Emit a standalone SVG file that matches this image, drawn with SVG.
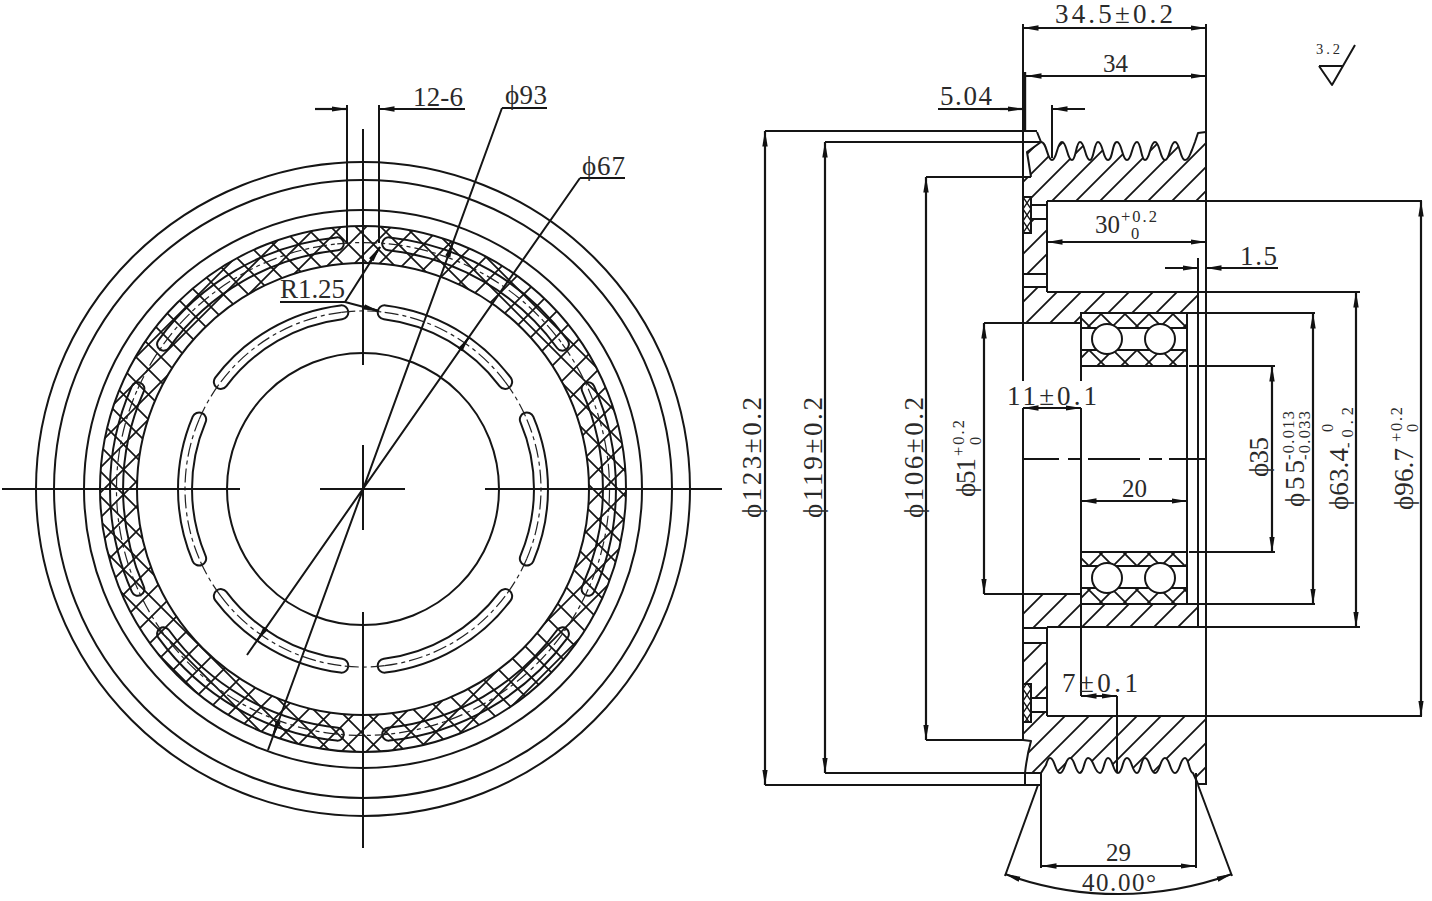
<svg xmlns="http://www.w3.org/2000/svg" xmlns:xlink="http://www.w3.org/1999/xlink" width="1432" height="901" viewBox="0 0 1432 901">
<style>
.l{fill:none;stroke:#151515;stroke-width:2;stroke-linejoin:round}
.th{fill:none;stroke:#151515;stroke-width:3.4}
.dm{fill:none;stroke:#151515;stroke-width:2.2;marker-start:url(#a);marker-end:url(#a)}
.ld{fill:none;stroke:#151515;stroke-width:2.2;marker-end:url(#a)}
.ds{fill:none;stroke:#222;stroke-width:1.2;stroke-dasharray:14 4 4 4}
text{font-family:"Liberation Serif","DejaVu Serif",serif;font-size:27px;fill:#2a2a2a}
.m{font-size:25px}
.s{font-size:16.5px}
.xs{font-size:14.5px}
</style>
<defs>
<marker id="a" markerUnits="userSpaceOnUse" markerWidth="16" markerHeight="7" refX="15.5" refY="3.5" orient="auto-start-reverse"><path d="M0 0.8 L16 3.5 L0 6.2Z" fill="#111"/></marker>
<pattern id="xh" patternUnits="userSpaceOnUse" width="25" height="25" patternTransform="translate(111 482)"><path d="M0 0L25 25M0 25L25 0" stroke="#151515" stroke-width="1.7" fill="none"/></pattern>
<pattern id="xb" patternUnits="userSpaceOnUse" width="24" height="24" patternTransform="translate(1101 314)"><path d="M0 0L24 24M0 24L24 0" stroke="#151515" stroke-width="1.8" fill="none"/></pattern>
<pattern id="xs" patternUnits="userSpaceOnUse" width="8" height="12" patternTransform="translate(1023 197)"><path d="M0 0L8 12M0 12L8 0" stroke="#151515" stroke-width="1.4" fill="none"/></pattern>
<pattern id="h" patternUnits="userSpaceOnUse" width="24" height="24" patternTransform="translate(5 0)"><path d="M-2 26L26 -2M-2 2L2 -2M22 26L26 22" stroke="#151515" stroke-width="1.8" fill="none"/></pattern>
<g id="in"><path class="l" d="M-72.28 -170.29A185 185 0 0 1 72.28 -170.29A7 7 0 0 1 66.81 -157.4A171 171 0 0 0 -66.81 -157.4A7 7 0 0 1 -72.28 -170.29Z"/><path class="ds" d="M-69.55 -163.85A178 178 0 0 1 69.55 -163.85"/></g>
<g id="out"><path class="l" d="M-102.9 -231.1A253 253 0 0 1 102.9 -231.1A6.5 6.5 0 0 1 97.6 -219.2A240 240 0 0 0 -97.6 -219.2A6.5 6.5 0 0 1 -102.9 -231.1Z"/><path class="ds" d="M-100.3 -225.2A246.5 246.5 0 0 1 100.3 -225.2"/></g>
<path id="gi" class="ds" d="M-21.7 -176.7A178 178 0 0 1 21.7 -176.7"/>
<path id="go" class="ds" d="M-25.8 -245.1A246.5 246.5 0 0 1 25.8 -245.1"/>
</defs>
<rect width="1432" height="901" fill="#fff"/>

<g id="front-view">
<path d="M100 489A263 263 0 1 0 626 489A263 263 0 1 0 100 489ZM137 489A226 226 0 1 0 589 489A226 226 0 1 0 137 489Z" fill="url(#xh)" fill-rule="evenodd"/>
<g transform="translate(363 489)" class="l">
<circle r="327"/><circle r="309"/><circle r="279"/><circle r="263"/><circle r="226"/><circle r="136"/>
<use href="#out" transform="rotate(30)"/><use href="#out" transform="rotate(90)"/><use href="#out" transform="rotate(150)"/><use href="#out" transform="rotate(210)"/><use href="#out" transform="rotate(270)"/><use href="#out" transform="rotate(330)"/>
<use href="#in" transform="rotate(30)"/><use href="#in" transform="rotate(90)"/><use href="#in" transform="rotate(150)"/><use href="#in" transform="rotate(210)"/><use href="#in" transform="rotate(270)"/><use href="#in" transform="rotate(330)"/>
<use href="#gi"/><use href="#gi" transform="rotate(60)"/><use href="#gi" transform="rotate(120)"/><use href="#gi" transform="rotate(180)"/><use href="#gi" transform="rotate(240)"/><use href="#gi" transform="rotate(300)"/>
<use href="#go"/><use href="#go" transform="rotate(60)"/><use href="#go" transform="rotate(120)"/><use href="#go" transform="rotate(180)"/><use href="#go" transform="rotate(240)"/><use href="#go" transform="rotate(300)"/>
</g>
<path class="l" d="M2 489H240M320 489H405M485 489H722M363 129V365M363 445V530M363 612V848M347 105V243M379 105V243"/>
<path class="ld" d="M315 109H347"/><path class="ld" d="M465 109H379"/>
<path class="l" d="M502 108H547M502 108L268 750M580 178H625M580 178L247 655M280 302H345L380 247M345 302L379 311"/>
<path class="ld" d="M447.6 257L453.1 242"/><path class="ld" d="M278.4 721L272.9 736"/>
<path class="ld" d="M460.3 349.6L468.9 337.3"/><path class="ld" d="M265.7 628.4L257.1 640.7"/>
<path class="ld" d="M369 263L380 247"/><path class="ld" d="M363 306.5L379 311"/>
<text x="413" y="106" textLength="50">12-6</text>
<text x="505" y="104" textLength="42">ϕ93</text>
<text x="582" y="175" textLength="43">ϕ67</text>
<text x="280" y="298" textLength="65">R1.25</text>
</g>

<g id="section-view">
<path d="M1041 142C1047 142 1047 160 1052 160C1057 160 1057 142 1062 142C1067 142 1067 160 1072 160C1076 160 1076 142 1080 142C1085 142 1085 160 1090 160C1094 160 1094 142 1098 142C1103 142 1103 160 1108 160C1113 160 1112 142 1117 142C1122 142 1122 160 1127 160C1132 160 1132 142 1137 142C1141 142 1141 160 1145 160C1150 160 1150 142 1155 142C1160 142 1160 160 1165 160C1170 160 1170 142 1175 142C1180 142 1180 160 1185 160C1189 160 1190 154 1192 150L1195 142L1198 133L1206 132V201H1047V205H1031V197H1023V177H1031L1027 152Z" fill="url(#h)"/>
<path d="M1023 233H1031V219H1047V274H1023ZM1023 287H1047V292H1198V313H1081V323H1023ZM1023 594H1081V604H1198V627H1023ZM1023 643H1047V698H1031V684H1023Z" fill="url(#h)"/>
<path d="M1025 773H1041L1046 765Q1048 758 1050 758C1055 758 1055 773 1060 773C1065 773 1065 758 1070 758C1075 758 1075 773 1080 773C1084 773 1084 758 1088 758C1094 758 1094 773 1100 773C1104 773 1104 758 1108 758C1113 758 1113 773 1118 773C1123 773 1122 758 1127 758C1132 758 1132 773 1137 773C1141 773 1141 758 1145 758C1150 758 1150 773 1155 773C1160 773 1160 758 1165 758C1170 758 1170 773 1175 773C1180 773 1180 758 1185 758C1189 758 1189 773 1193 773L1198 784H1206V716H1047V712H1031V722H1023V740L1031 741Q1027 755 1025 773Z" fill="url(#h)"/>
<path class="l" d="M1041 142C1047 142 1047 160 1052 160C1057 160 1057 142 1062 142C1067 142 1067 160 1072 160C1076 160 1076 142 1080 142C1085 142 1085 160 1090 160C1094 160 1094 142 1098 142C1103 142 1103 160 1108 160C1113 160 1112 142 1117 142C1122 142 1122 160 1127 160C1132 160 1132 142 1137 142C1141 142 1141 160 1145 160C1150 160 1150 142 1155 142C1160 142 1160 160 1165 160C1170 160 1170 142 1175 142C1180 142 1180 160 1185 160C1189 160 1190 154 1192 150L1195 142L1198 133L1206 132"/>
<path class="l" d="M1025 773H1041L1046 765Q1048 758 1050 758C1055 758 1055 773 1060 773C1065 773 1065 758 1070 758C1075 758 1075 773 1080 773C1084 773 1084 758 1088 758C1094 758 1094 773 1100 773C1104 773 1104 758 1108 758C1113 758 1113 773 1118 773C1123 773 1122 758 1127 758C1132 758 1132 773 1137 773C1141 773 1141 758 1145 758C1150 758 1150 773 1155 773C1160 773 1160 758 1165 758C1170 758 1170 773 1175 773C1180 773 1180 758 1185 758C1189 758 1189 773 1193 773L1198 784H1206"/>
<path class="l" d="M1037 132L1041 142L1027 152L1031 177M1023 740L1031 741Q1027 755 1025 773V785"/>
<path class="l" d="M1023 24V381M1023 408V740M1206 24V785M1047 201V292M1047 627V716M1081 313V381M1081 408V696M1187 313V604M1198 258V627M1117 696V773M1041 773V868M1196 773V868"/>
<path class="th" d="M1024.5 72V132"/>
<path class="l" d="M1031 205H1047M1031 219H1047M1023 274H1047M1023 287H1047M1023 628H1047M1023 643H1047M1031 698H1047M1031 712H1047"/>
<path class="l" d="M765 131H1037M825 142H1041M926 177H1031M984 323H1081M984 594H1081M926 740H1023M825 773H1041M765 785H1041"/>
<path class="l" d="M1047 201H1422M1047 716H1422M1047 292H1360M1047 627H1360M1081 313H1315M1081 604H1315M1081 366H1187M1189 366H1275M1081 552H1187M1189 552H1275"/>
<path class="l" d="M1023 459H1059M1068 459H1081M1088 459H1140M1149 459H1162M1169 459H1206"/>
<path d="M1081 313H1187V328H1081ZM1081 350H1187V366H1081ZM1081 552H1187V566H1081ZM1081 588H1187V604H1081Z" fill="url(#xb)" stroke="#151515" stroke-width="2"/>
<path d="M1023 197H1031V233H1023ZM1023 684H1031V722H1023Z" fill="url(#xs)" stroke="#151515" stroke-width="2"/>
<g class="l"><circle cx="1107" cy="339" r="15" fill="#fff"/><circle cx="1160" cy="339" r="15" fill="#fff"/><circle cx="1107" cy="578" r="15" fill="#fff"/><circle cx="1160" cy="578" r="15" fill="#fff"/></g>
</g>

<g id="dimension-lines">
<path class="dm" d="M1023 28H1206"/><path class="dm" d="M1026 76H1206"/>
<path class="l" d="M938 109H1023"/><path class="ld" d="M1000 109H1023"/><path class="ld" d="M1085 109H1052"/><path class="l" d="M1052 105V158"/>
<path class="dm" d="M765 131V785"/><path class="dm" d="M825 142V773"/><path class="dm" d="M926 177V740"/><path class="dm" d="M984 323V594"/>
<path class="dm" d="M1023 408H1081"/><path class="dm" d="M1081 501H1187"/><path class="dm" d="M1272 366V552"/><path class="dm" d="M1313 313V604"/><path class="dm" d="M1356 292V627"/><path class="dm" d="M1421 201V716"/>
<path class="dm" d="M1047 242H1206"/>
<path class="ld" d="M1165 268H1198"/><path class="ld" d="M1278 268H1206"/>
<path class="dm" d="M1081 696H1117"/><path class="dm" d="M1041 866H1196"/>
<path class="l" d="M1038 785L1005 876M1198 785L1232 876"/>
<path class="dm" d="M1005 874A332 332 0 0 0 1232 874"/>
</g>

<g id="labels">
<text x="1055" y="23" textLength="118">34.5±0.2</text>
<text class="m" x="1103" y="72">34</text>
<text x="940" y="105" textLength="52">5.04</text>
<text class="m" x="1095" y="233">30</text>
<text class="s" x="1121" y="222" textLength="36">+0.2</text>
<text class="s" x="1131" y="239">0</text>
<text x="1240" y="265" textLength="37">1.5</text>
<text x="1007" y="405" textLength="90">11±0.1</text>
<text class="m" x="1122" y="497">20</text>
<text x="1062" y="692" textLength="76">7±0.1</text>
<text class="m" x="1106" y="861">29</text>
<text class="m" x="1082" y="891" textLength="74">40.00°</text>
<text class="xs" x="1316" y="54" textLength="24">3.2</text>
<g transform="translate(761 518) rotate(-90)"><text textLength="121">ϕ123±0.2</text></g>
<g transform="translate(822 518) rotate(-90)"><text textLength="121">ϕ119±0.2</text></g>
<g transform="translate(923 518) rotate(-90)"><text textLength="121">ϕ106±0.2</text></g>
<g transform="translate(975 497) rotate(-90)"><text textLength="39">ϕ51</text></g>
<g transform="translate(964 456) rotate(-90)"><text class="s" textLength="36">+0.2</text></g>
<g transform="translate(981 445) rotate(-90)"><text class="s">0</text></g>
<g transform="translate(1268 477) rotate(-90)"><text textLength="40">ϕ35</text></g>
<g transform="translate(1304 507) rotate(-90)"><text textLength="47">ϕ55</text></g>
<g transform="translate(1294 460) rotate(-90)"><text class="s" textLength="49">-0.013</text></g>
<g transform="translate(1310 460) rotate(-90)"><text class="s" textLength="49">-0.033</text></g>
<g transform="translate(1348 510) rotate(-90)"><text textLength="62">ϕ63.4</text></g>
<g transform="translate(1333 432) rotate(-90)"><text class="s">0</text></g>
<g transform="translate(1353 448) rotate(-90)"><text class="s" textLength="41">-0.2</text></g>
<g transform="translate(1413 510) rotate(-90)"><text textLength="62">ϕ96.7</text></g>
<g transform="translate(1402 442) rotate(-90)"><text class="s" textLength="35">+0.2</text></g>
<g transform="translate(1418 432) rotate(-90)"><text class="s">0</text></g>
</g>

<g id="roughness-symbol"><path class="l" d="M1319 66H1343M1319 66L1332 85L1355 45"/></g>
</svg>
